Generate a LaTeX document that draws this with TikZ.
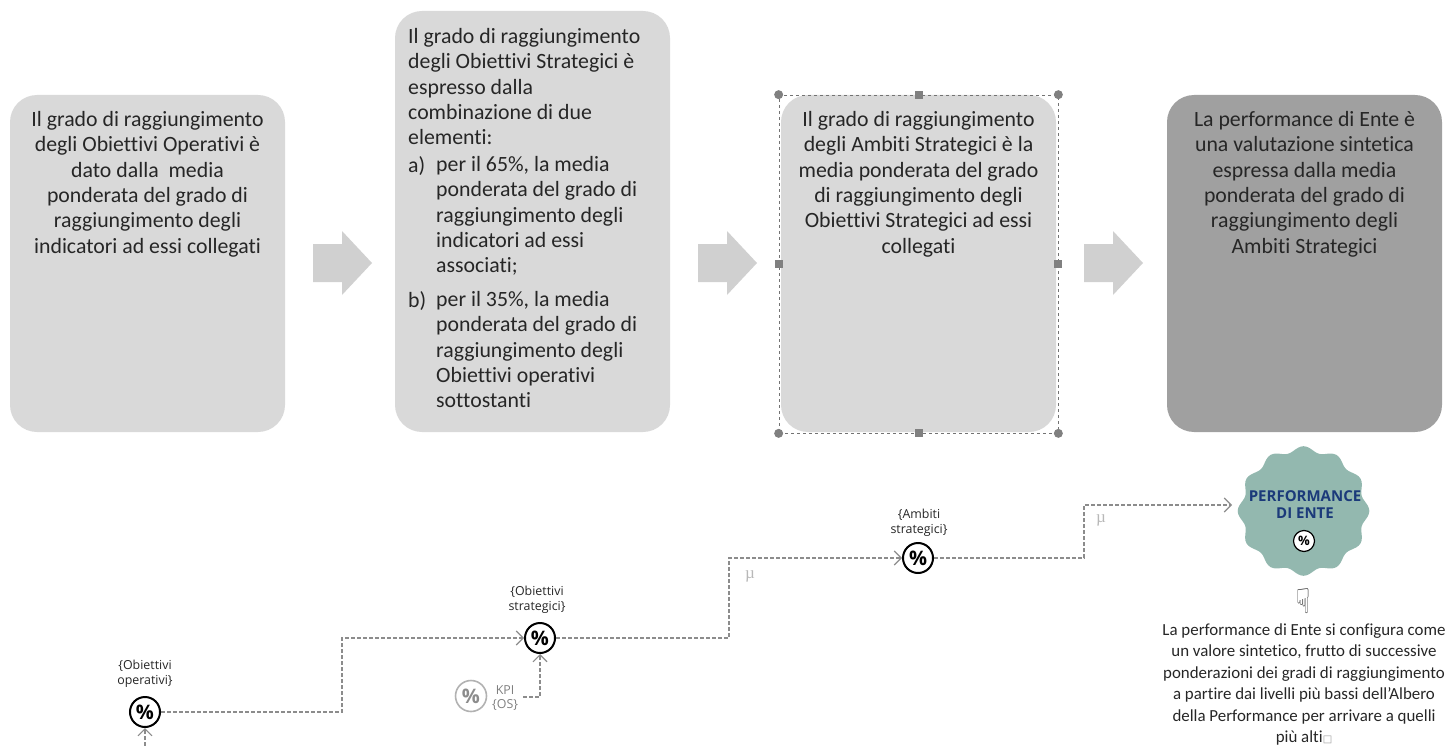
\documentclass[tikz,border=0pt]{standalone}
\usepackage{fontspec}
\setmainfont[RawFeature=-liga]{Carlito}
\newfontfamily\labelfont{Open Sans}
\newfontfamily\muglyph{Liberation Serif}
\newfontfamily\symfont{DejaVu Sans}
\usetikzlibrary{positioning,arrows.meta}
\definecolor{boxgray}{HTML}{D9D9D9}
\definecolor{darkbox}{HTML}{A0A0A0}
\definecolor{arrowgray}{HTML}{D0D0D0}
\definecolor{flowgray}{HTML}{8C8C8C}
\definecolor{badgegreen}{HTML}{93B8AF}
\definecolor{navytext}{HTML}{1B3A7A}
\definecolor{inktext}{HTML}{262626}

\begin{document}
\begin{tikzpicture}[x=1pt,y=-1pt,font=\fontsize{21.8}{25.4}\selectfont,text=inktext]
            \tikzstyle{box}=[rounded corners=27pt,minimum width=275pt,inner sep=0,fill=boxgray]
            \tikzstyle{box text}=[anchor=north,inner sep=0,align=center]
            \tikzstyle{list text}=[anchor=north west,inner sep=0,align=left]
            \tikzstyle{big arrow}=[fill=arrowgray,draw=none]
            \tikzstyle{pct}=[circle,draw=black,line width=2pt,fill=white,inner sep=0,minimum size=30pt,text=black,font=\labelfont\fontsize{20}{20}\selectfont\bfseries]
            \tikzstyle{pct off}=[pct,draw=black!30,text=black!45,line width=1.6pt,minimum size=31pt]
            \tikzstyle{small label}=[inner sep=0,align=center,font=\labelfont\fontsize{12.4}{14.5}\selectfont]
            \tikzstyle{flow}=[draw=flowgray,line width=1.1pt,dash pattern=on 4pt off 2pt,-{Straight Barb[length=7pt,width=14pt,line width=1.1pt]}]
            \tikzstyle{mu}=[inner sep=0,text=black!28,font=\muglyph\fontsize{17}{17}\selectfont]
            \tikzstyle{handle}=[rectangle,fill=black!50,inner sep=0,minimum size=8pt]
            \tikzstyle{round handle}=[circle,fill=black!50,inner sep=0,minimum size=9pt]
            \useasboundingbox (0,0) rectangle (1448,746);
            % top row
            \node[box,minimum height=337pt](ro) at (147.5,263.5){};
            \node[box,minimum height=421pt](rs) at (532.5,221.5){};
            \node[box,minimum height=337pt](ra) at (918.5,263.5){};
            \node[box,minimum height=337pt,fill=darkbox](re) at (1304.5,263.5){};
            \node[box text](to) at (147.5,111){Il grado di raggiungimento\\degli Obiettivi Operativi è\\dato dalla\ \ media\\ponderata del grado di\\raggiungimento degli\\indicatori ad essi collegati};
            \node[list text](ts) at (408,28){Il grado di raggiungimento\\degli Obiettivi Strategici è\\espresso dalla\\combinazione di due\\elementi:};
            \node[list text](la) at (408,156){a)};
            \node[list text](ta) at (436,156){per il 65\%, la media\\ponderata del grado di\\raggiungimento degli\\indicatori ad essi\\associati;};
            \node[list text](lb) at (408,291){b)};
            \node[list text](tb) at (436,291){per il 35\%, la media\\ponderata del grado di\\raggiungimento degli\\Obiettivi operativi\\sottostanti};
            \node[box text](ta3) at (918.5,111){Il grado di raggiungimento\\degli Ambiti Strategici è la\\media ponderata del grado\\di raggiungimento degli\\Obiettivi Strategici ad essi\\collegati};
            \node[box text](te) at (1304.5,111){La performance di Ente è\\una valutazione sintetica\\espressa dalla media\\ponderata del grado di\\raggiungimento degli\\Ambiti Strategici};
            % block arrows
            \foreach \x in {313,698,1084}{
              \path[big arrow] (\x,244) -- ++(29,0) -- ++(0,-13) -- ++(30,32) -- ++(-30,32) -- ++(0,-13) -- ++(-29,0) -- cycle;
            }
            % selection frame on the third box
            \node[draw=black!55,dashed,line width=.7pt,inner sep=0,minimum width=279pt,minimum height=338pt](sel) at (918.5,264){};
            \foreach \a/\n in {north west/hnw,north east/hne,south west/hsw,south east/hse}{
              \node[round handle](\n) at (sel.\a){};
            }
            \foreach \a/\n in {north/hn,south/hs,west/hw,east/he}{
              \node[handle](\n) at (sel.\a){};
            }
            % lower row
            \node[pct](oo) at (145,712){\%};
            \node[pct](os) at (540,638){\%};
            \node[pct](as) at (918,558){\%};
            \node[pct off](kpi) at (471,696){\%};
            \node[small label](loo) at (145,674){\{Obiettivi\\operativi\}};
            \node[small label](los) at (537,600){\{Obiettivi\\strategici\}};
            \node[small label](las) at (919,523){\{Ambiti\\strategici\}};
            \node[small label,anchor=west,text=black!50](lkpi) at (492,698){KPI\\\{OS\}};
            \node[mu](mua) at (750,576){µ};
            \node[mu](mub) at (1101,520){µ};
            % badge
            \draw[fill=badgegreen,draw=none] plot[smooth,domain=0:360,samples=145] ({1303.5+(63+2.8*cos(12*\x))*cos(\x)},{511+(62+2.8*cos(12*\x))*sin(\x)});
            \node[inner sep=0,align=center,text=navytext,font=\labelfont\fontsize{15}{17}\selectfont\bfseries](perf) at (1305,505){PERFORMANCE\\DI ENTE};
            \node[pct,minimum size=21pt,line width=1.2pt,font=\labelfont\fontsize{13}{13}\selectfont\bfseries](pe) at (1304,541){\%};
            \coordinate (c1) at (342,712);
            \coordinate (c2) at (342,638);
            \coordinate (c3) at (729,638);
            \coordinate (c4) at (729,558);
            \coordinate (c5) at (1084,558);
            \coordinate (c6) at (1084,505);
            \coordinate (pin) at (1232,505);
            \coordinate (oin) at (145,746);
            \coordinate (kout) at (523,697);
            \draw[flow] (oo) -- (c1) -- (c2) -- (os);
            \draw[flow] (os) -- (c3) -- (c4) -- (as);
            \draw[flow] (as) -- (c5) -- (c6) -- (pin);
            \draw[flow] (kout) -| (os);
            \draw[flow] (oin) -- (oo);
            % note under the badge
            \node[inner sep=0,yscale=1.5,font=\symfont\fontsize{23}{23}\selectfont,text=black!80](hand) at (1303,601){☟};
            \node[inner sep=0,align=center,anchor=north,font=\fontsize{16.9}{21.4}\selectfont](note) at (1304,623.5){La performance di Ente si configura come\\un valore sintetico, frutto di successive\\ponderazioni dei gradi di raggiungimento\\a partire dai livelli più bassi dell’Albero\\della Performance per arrivare a quelli\\più alti{\symfont\fontsize{10}{10}\selectfont\textcolor{black!40}{□}}};
          \end{tikzpicture}
\end{document}
